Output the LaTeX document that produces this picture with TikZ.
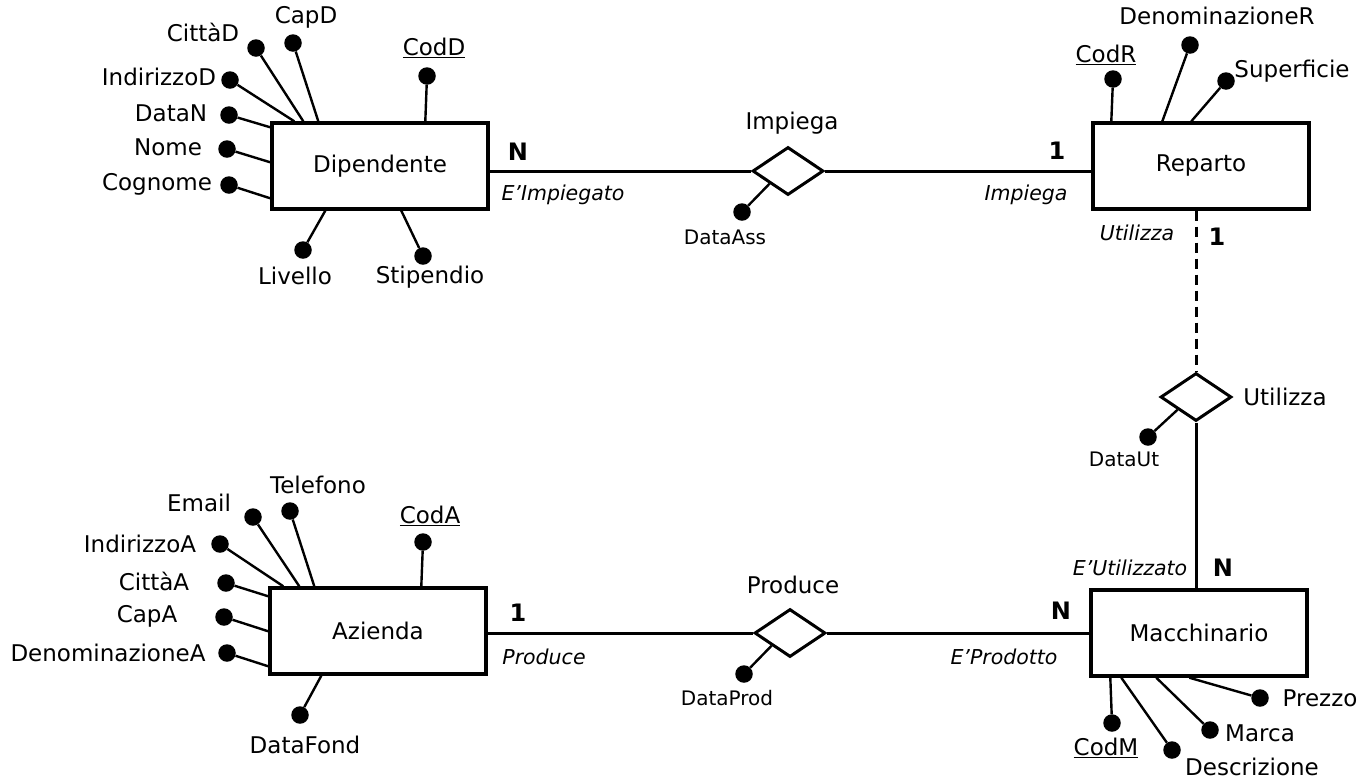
\documentclass[tikz,border=0pt]{standalone}
\usepackage{fontspec}
\setmainfont{DejaVu Sans}
\usetikzlibrary{shapes.geometric,calc}
\tikzset{
  entity/.style={draw, rectangle, line width=3.4pt, minimum width=216pt, minimum height=86pt, inner sep=0pt, font=\fontsize{23}{27}\selectfont},
  rel/.style={draw, diamond, line width=3pt, minimum width=71pt, minimum height=48pt, inner sep=0pt},
  dot/.style={circle, fill=black, minimum size=17.5pt, inner sep=0pt},
  attr/.style={line width=2.4pt},
  link/.style={line width=3pt},
  lbl/.style={inner sep=0pt, font=\fontsize{23}{27}\selectfont},
  sml/.style={inner sep=0pt, font=\fontsize{20}{24}\selectfont},
  itl/.style={inner sep=0pt, font=\fontsize{20.5}{24}\selectfont\itshape},
  card/.style={inner sep=0pt, font=\fontsize{24}{28}\selectfont\bfseries},
}
\begin{document}
\begin{tikzpicture}[x=1pt,y=-1pt]
\useasboundingbox (0,0) rectangle (1372,780);

% ---------- Entities ----------
\node[entity] (dip) at (380,166) {Dipendente};
\node[entity] (rep) at (1201,166) {Reparto};
\node[entity] (az) at (378,631) {Azienda};
\node[entity] (mac) at (1199,633) {Macchinario};

% ---------- Relationships ----------
\node[rel] (imp) at (788,171) {};
\node[rel] (uti) at (1196,397) {};
\node[rel] (pro) at (790,633) {};

\node[lbl] (limp) at (792,123) {Impiega};
\node[lbl] (luti) at (1285,397) {Utilizza};
\node[lbl] (lpro) at (793,585) {Produce};

% ---------- Links ----------
\draw[link] (imp.west -| dip.east) -- (imp.west);
\draw[link] (imp.east) -- (imp.east -| rep.west);
\draw[link] (pro.west -| az.east) -- (pro.west);
\draw[link] (pro.east) -- (pro.east -| mac.west);
\draw[link, dash pattern=on 10pt off 6pt] (uti.north |- rep.south) -- (uti.north);
\draw[link] (uti.south) -- (uti.south |- mac.north);

% cardinalities and roles
\node[card] (c1) at (518,152) {N};
\node[itl] (r1) at (563,195) {E’Impiegato};
\node[card] (c2) at (1057,151) {1};
\node[itl] (r2) at (1026,195) {Impiega};
\node[itl] (r3) at (1137,233) {Utilizza};
\node[card] (c3) at (1217,237) {1};
\node[itl] (r4) at (1130,568) {E’Utilizzato};
\node[card] (c4) at (1223,568) {N};
\node[card] (c5) at (518,613) {1};
\node[itl] (r5) at (544,657) {Produce};
\node[card] (c6) at (1061,611) {N};
\node[itl] (r6) at (1004,657) {E’Prodotto};

% relationship attributes
\node[dot] (dass) at (742,212) {};
\draw[attr] (dass) -- ($(imp.west)!0.5!(imp.south)$);
\node[sml] (ldass) at (725,237) {DataAss};
\node[dot] (dut) at (1148,437) {};
\draw[attr] (dut) -- ($(uti.west)!0.5!(uti.south)$);
\node[sml] (ldut) at (1124,459) {DataUt};
\node[dot] (dprod) at (744,674) {};
\draw[attr] (dprod) -- ($(pro.west)!0.5!(pro.south)$);
\node[sml] (ldprod) at (727,698) {DataProd};

% ---------- Dipendente attributes ----------
\node[dot] (codd) at (427,76) {};
\draw[attr] (codd) -- ([xshift=155pt]dip.north west);
\node[lbl] (lcodd) at (434,48) {\underline{CodD}};
\node[dot] (capd) at (293,43) {};
\draw[attr] (capd) -- ([xshift=48pt]dip.north west);
\node[lbl] (lcapd) at (306,17) {CapD};
\node[dot] (cittad) at (256,48) {};
\draw[attr] (cittad) -- ([xshift=33pt]dip.north west);
\node[lbl] (lcittad) at (203,32) {CittàD};
\node[dot] (indd) at (230,80) {};
\draw[attr] (indd) -- ([xshift=24pt]dip.north west);
\node[lbl] (lindd) at (159,77) {IndirizzoD};
\node[dot] (datan) at (229,115) {};
\draw[attr] (datan) -- ([yshift=-6pt]dip.north west);
\node[lbl] (ldatan) at (171,113) {DataN};
\node[dot] (nome) at (227,149) {};
\draw[attr] (nome) -- ([yshift=-41pt]dip.north west);
\node[lbl] (lnome) at (168,147) {Nome};
\node[dot] (cogn) at (229,185) {};
\draw[attr] (cogn) -- ([yshift=-77pt]dip.north west);
\node[lbl] (lcogn) at (157,184) {Cognome};
\node[dot] (liv) at (303,250) {};
\draw[attr] (liv) -- ([xshift=55pt]dip.south west);
\node[lbl] (lliv) at (295,276) {Livello};
\node[dot] (stip) at (423,256) {};
\draw[attr] (stip) -- ([xshift=131pt]dip.south west);
\node[lbl] (lstip) at (430,277) {Stipendio};

% ---------- Reparto attributes ----------
\node[dot] (codr) at (1113,79) {};
\draw[attr] (codr) -- ([xshift=20pt]rep.north west);
\node[lbl] (lcodr) at (1106,55) {\underline{CodR}};
\node[dot] (denr) at (1190,45) {};
\draw[attr] (denr) -- ([xshift=71pt]rep.north west);
\node[lbl] (ldenr) at (1217,16) {DenominazioneR};
\node[dot] (sup) at (1226,81) {};
\draw[attr] (sup) -- ([xshift=100pt]rep.north west);
\node[lbl] (lsup) at (1292,71) {Superficie};

% ---------- Azienda attributes ----------
\node[dot] (coda) at (423,542) {};
\draw[attr] (coda) -- ([xshift=153pt]az.north west);
\node[lbl] (lcoda) at (430,516) {\underline{CodA}};
\node[dot] (tel) at (290,511) {};
\draw[attr] (tel) -- ([xshift=46pt]az.north west);
\node[lbl] (ltel) at (318,485) {Telefono};
\node[dot] (email) at (253,517) {};
\draw[attr] (email) -- ([xshift=31pt]az.north west);
\node[lbl] (lemail) at (199,503) {Email};
\node[dot] (inda) at (220,544) {};
\draw[attr] (inda) -- ([xshift=15pt]az.north west);
\node[lbl] (linda) at (140,544) {IndirizzoA};
\node[dot] (cittaa) at (226,583) {};
\draw[attr] (cittaa) -- ([yshift=-10pt]az.north west);
\node[lbl] (lcittaa) at (154,581) {CittàA};
\node[dot] (capa) at (224,617) {};
\draw[attr] (capa) -- ([yshift=-45pt]az.north west);
\node[lbl] (lcapa) at (147,616) {CapA};
\node[dot] (dena) at (227,653) {};
\draw[attr] (dena) -- ([yshift=-80pt]az.north west);
\node[lbl] (ldena) at (108,653) {DenominazioneA};
\node[dot] (dfond) at (300,715) {};
\draw[attr] (dfond) -- ([xshift=53pt]az.south west);
\node[lbl] (ldfond) at (305,745) {DataFond};

% ---------- Macchinario attributes ----------
\node[dot] (codm) at (1112,723) {};
\draw[attr] (codm) -- ([xshift=21pt]mac.south west);
\node[lbl] (lcodm) at (1106,748) {\underline{CodM}};
\node[dot] (descr) at (1172,750) {};
\draw[attr] (descr) -- ([xshift=32pt]mac.south west);
\node[lbl] (ldescr) at (1252,767) {Descrizione};
\node[dot] (marca) at (1210,730) {};
\draw[attr] (marca) -- ([xshift=67pt]mac.south west);
\node[lbl] (lmarca) at (1260,733) {Marca};
\node[dot] (prezzo) at (1260,698) {};
\draw[attr] (prezzo) -- ([xshift=100pt]mac.south west);
\node[lbl] (lprezzo) at (1320,698) {Prezzo};
\end{tikzpicture}
\end{document}
